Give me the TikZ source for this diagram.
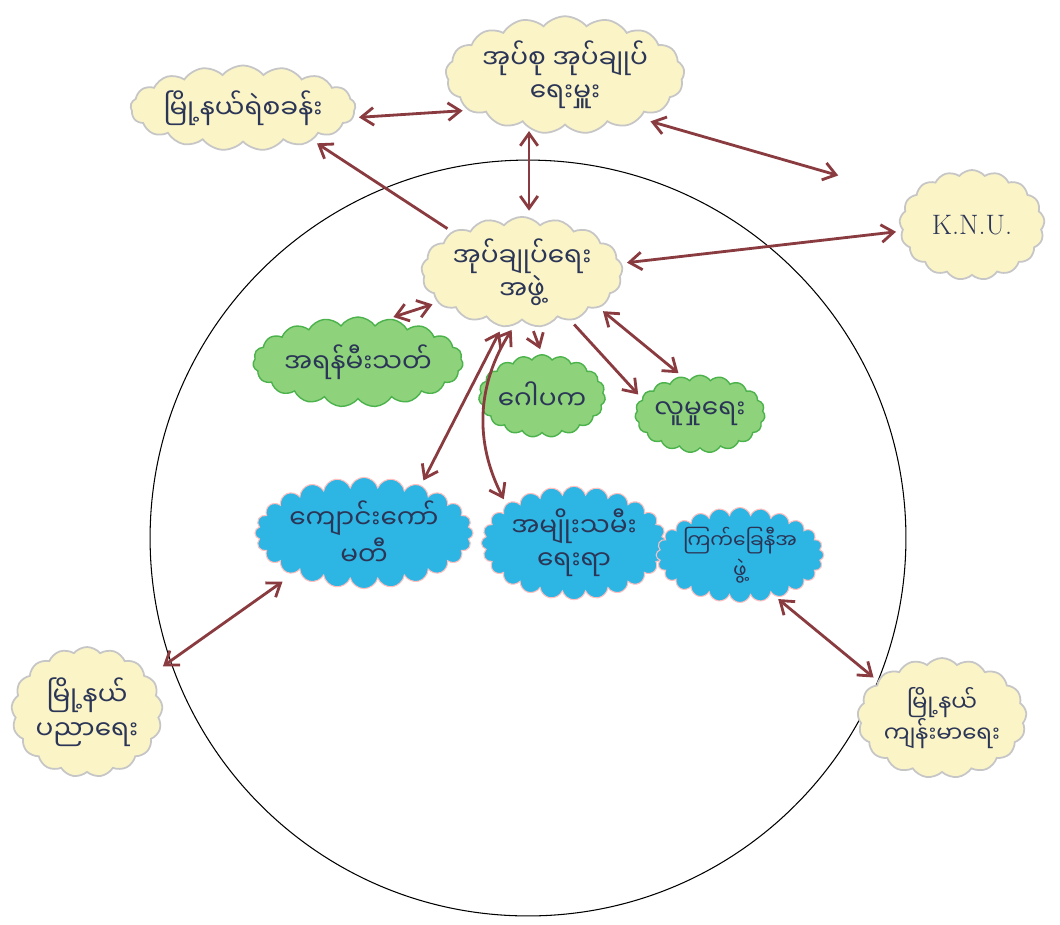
\documentclass[tikz,border=0pt]{standalone}
\usepackage{fontspec}
\usepackage{tikz}
\usetikzlibrary{shapes,arrows.meta,positioning}
\newfontfamily\mya[Script=Myanmar]{Noto Sans Myanmar UI}
\definecolor{cloudyel}{HTML}{FBF4C6}
\definecolor{cloudgrn}{HTML}{8ED27C}
\definecolor{cloudblu}{HTML}{2DB6E4}
\definecolor{linkred}{HTML}{8A3B3F}
\definecolor{inkblue}{HTML}{2B3556}
\tikzset{
  yelcloud/.style={cloud, cloud ignores aspect, cloud puffs=17, cloud puff arc=100, draw=gray!45, line width=1pt, fill=cloudyel, align=center, text=inkblue, inner sep=0pt},
  grncloud/.style={cloud, cloud ignores aspect, cloud puffs=19, cloud puff arc=110, draw=gray!60!green, line width=0.8pt, fill=cloudgrn, align=center, text=inkblue, inner sep=0pt},
  blublob/.style={cloud, cloud ignores aspect, cloud puffs=24, cloud puff arc=150, draw=red!25, line width=0.6pt, fill=cloudblu, align=center, text=inkblue, inner sep=0pt},
  link/.style={line width=1.6pt, linkred, shorten <=3pt, shorten >=3pt}
}
\begin{document}
\begin{tikzpicture}[x=0.02cm, y=-0.02cm, >={Straight Barb[length=7pt,width=10pt]}, every node/.style={font=\mya\fontsize{15}{19}\selectfont}]
	\useasboundingbox (0,0) rectangle (1060,924);
	\fill[white] (0,0) rectangle (1060,924);
	% village circle
	\draw[line width=0.6pt] (528,538) circle[radius=7.56cm];

	\node[yelcloud, minimum width=3.7cm, minimum height=1.7cm] (pol) at (243,108) {မြို့နယ်ရဲစခန်း};
	\node[yelcloud, minimum width=4.2cm, minimum height=2.35cm] (vta) at (565,75) {အုပ်စု အုပ်ချုပ်\\ရေးမှူး};
	\node[yelcloud, minimum width=2.9cm, minimum height=2.2cm, font=\rmfamily\fontsize{16}{18}\selectfont] (knu) at (972,225) {K.N.U.};
	\node[yelcloud, minimum width=3.0cm, minimum height=2.05cm] (ctr) at (522,272) {အုပ်ချုပ်ရေး\\အဖွဲ့};

	\node[grncloud, minimum width=3.2cm, minimum height=1.8cm] (fire) at (358,362) {အရန်မီးသတ်};
	\node[grncloud, minimum width=2.0cm, minimum height=1.65cm] (gaw) at (542,396) {ဂေါပက};
	\node[grncloud, minimum width=2.3cm, minimum height=1.55cm] (soc) at (700,414) {လူမှုရေး};

	\node[blublob, minimum width=3.1cm, minimum height=1.65cm] (sch) at (364,533) {ကျောင်းကော်\\မတီ};
	\node[blublob, minimum width=2.6cm, minimum height=1.65cm] (wom) at (574,543) {အမျိုးသမီး\\ရေးရာ};
	\node[blublob, minimum width=2.0cm, minimum height=1.9cm, font=\mya\fontsize{11.5}{17}\selectfont] (red) at (740,555) {ကြက်ခြေနီအ\\ဖွဲ့};

	\node[yelcloud, minimum width=3.0cm, minimum height=2.6cm] (edu) at (87,712) {မြို့နယ်\\ပညာရေး};
	\node[yelcloud, minimum width=2.9cm, minimum height=2.4cm, font=\mya\fontsize{13}{18}\selectfont] (hea) at (942,718) {မြို့နယ်\\ကျန်းမာရေး};

	\draw[link, <->] (pol.-5) -- (vta.200);
	\draw[link, <->, shorten <=6pt, shorten >=1.5cm] (vta.-30) -- (knu.155);
	\draw[link, <->] ([xshift=4pt]ctr.north) -- ([xshift=4pt]ctr.north |- vta.south);
	\draw[link, ->] (ctr.150) -- (pol.-25);
	\draw[link, <->] (ctr.5) -- (knu.185);
	\draw[link, <->] (ctr.200) -- (fire.55);
	\draw[link, ->] (ctr.-80) -- (gaw.north);
	\draw[link, ->] (ctr.-45) -- (soc.165);
	\draw[link, <->] (ctr.-25) -- (soc.115);
	\draw[link, <->] (ctr.250) -- (sch.40);
	\draw[link, <->] (ctr.262) to[bend right=30] (wom.150);
	\draw[link, <->, shorten <=10pt, shorten >=8pt] (edu.30) -- (sch.210);
	\draw[link, <->] (hea.150) -- (red.-50);
\end{tikzpicture}
\end{document}
